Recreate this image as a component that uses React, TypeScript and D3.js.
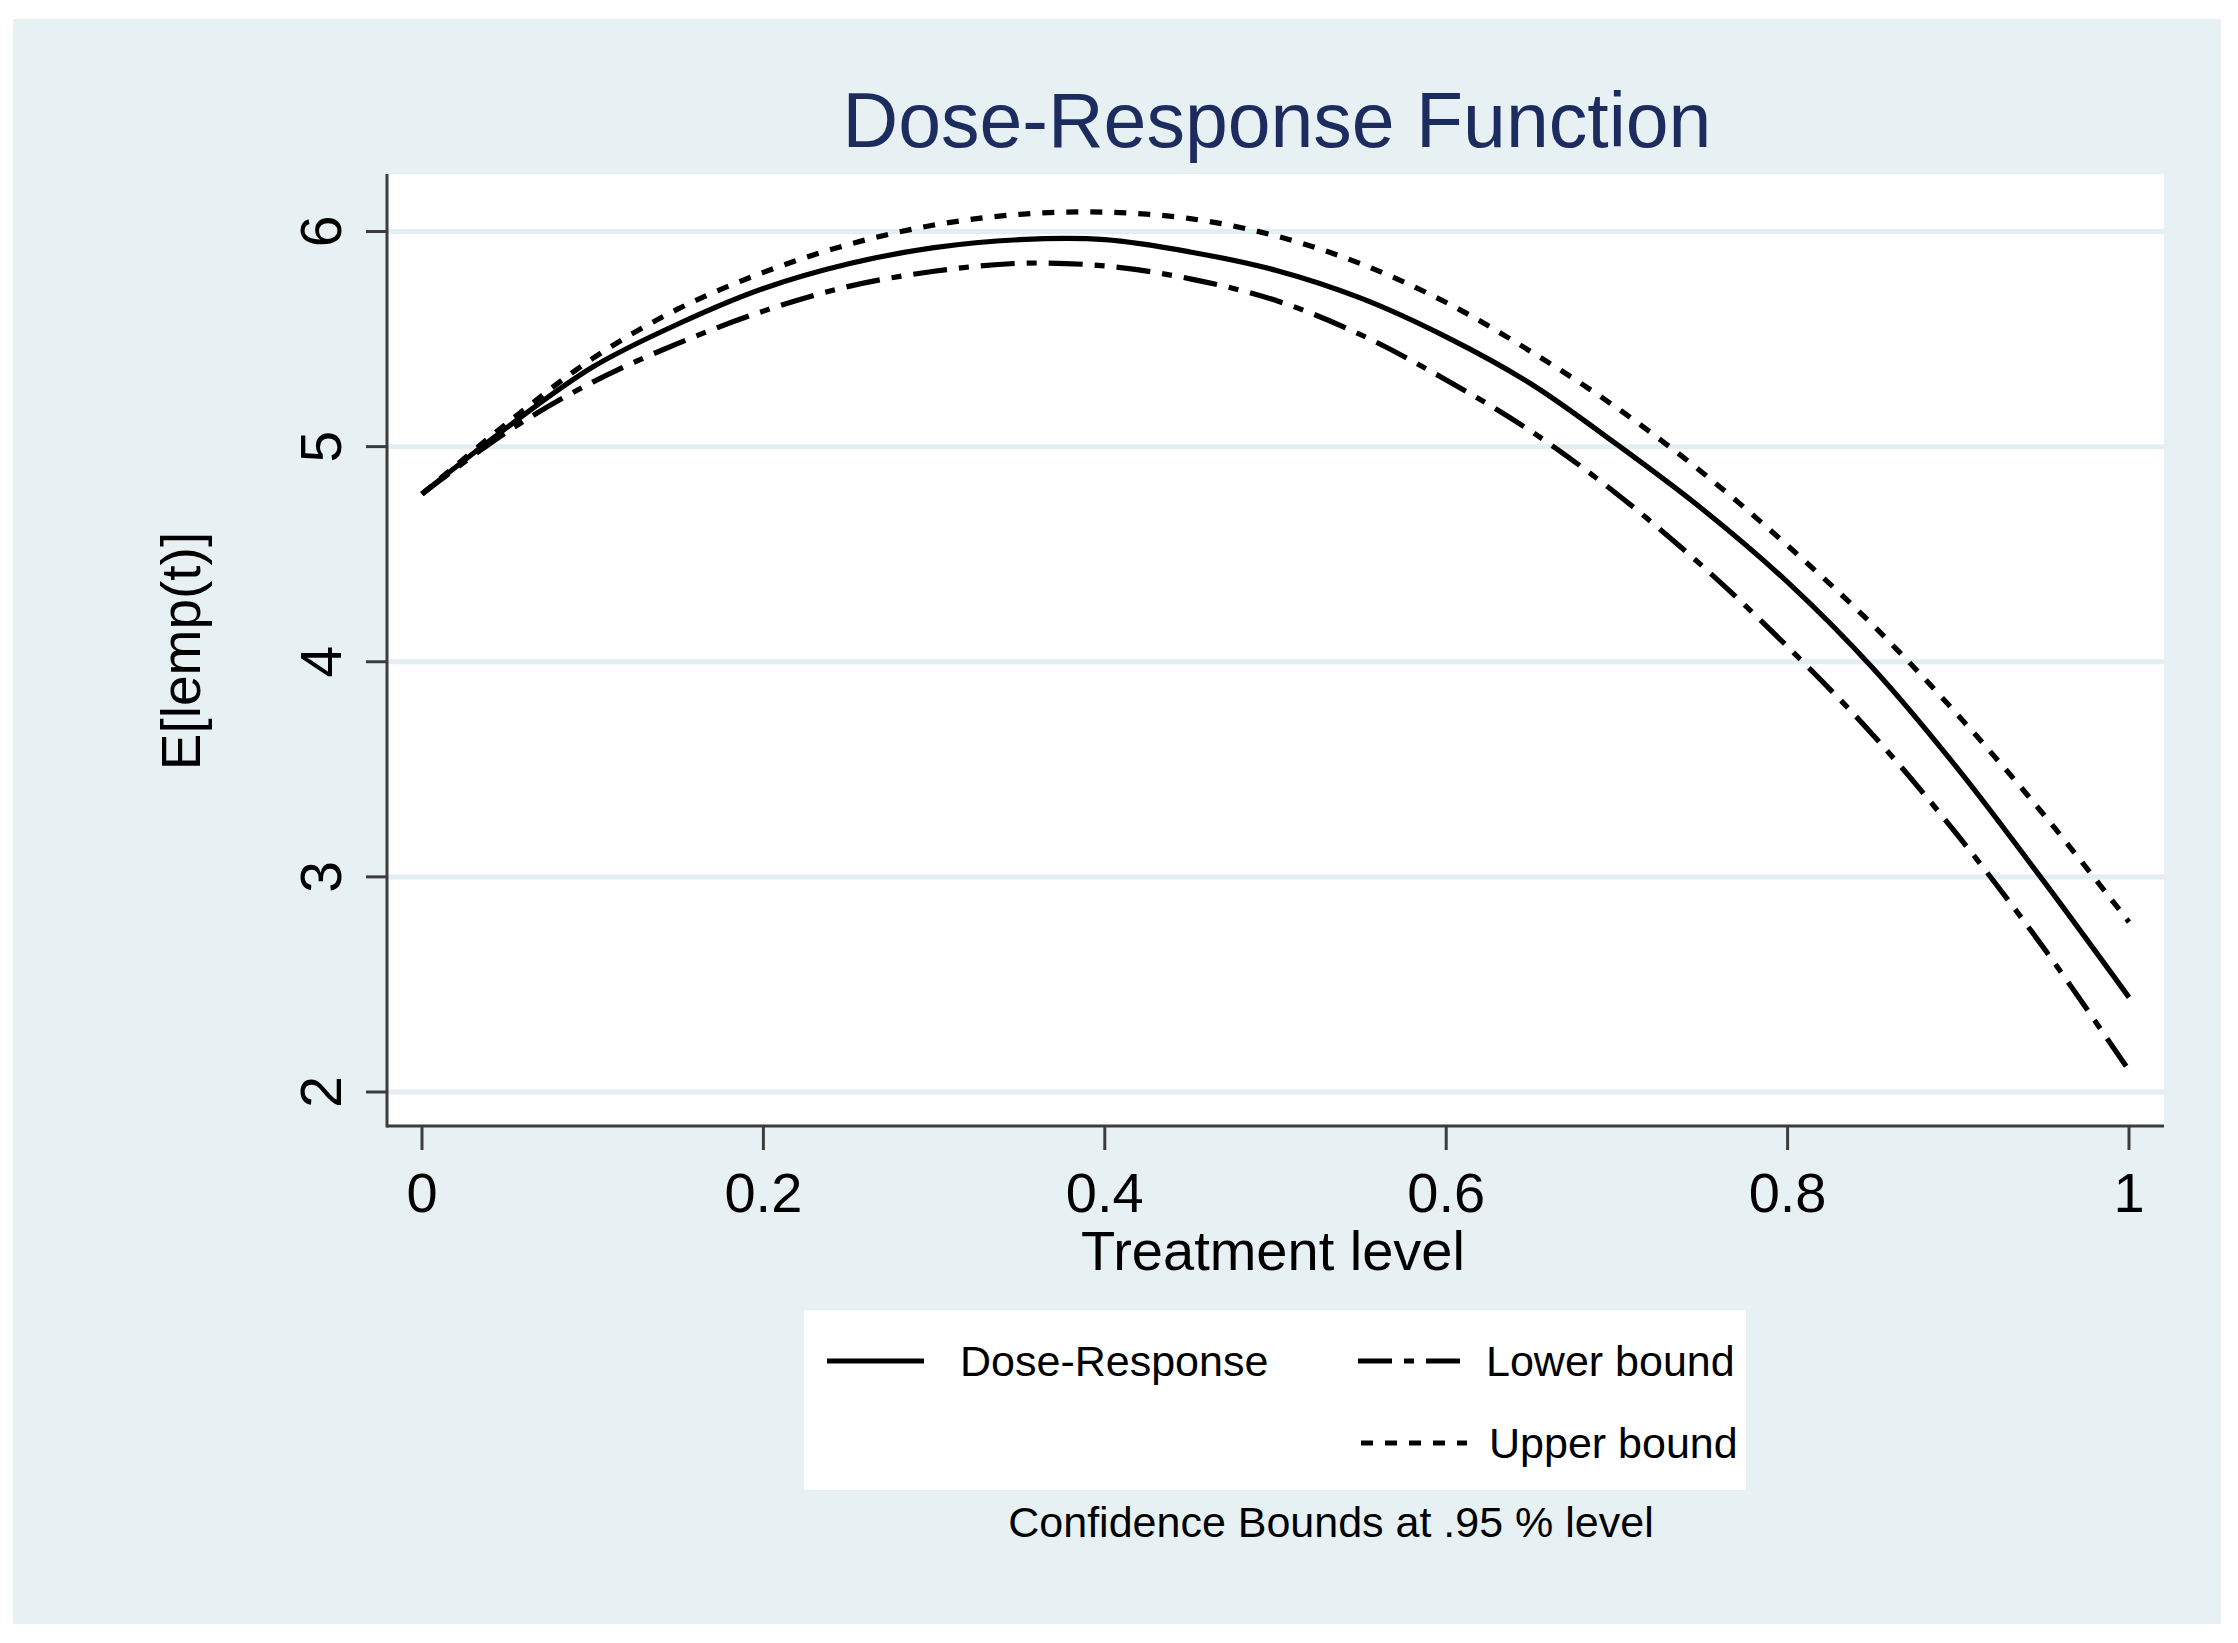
import React from "react";
import * as d3 from "d3";

const treatment = [0, 0.05, 0.1, 0.15, 0.2, 0.25, 0.3, 0.35, 0.4, 0.45, 0.5, 0.55, 0.6, 0.65, 0.7, 0.75, 0.8, 0.85, 0.9, 0.95, 1.0];
const doseResponse = [4.78, 5.09, 5.37, 5.57, 5.735, 5.85, 5.925, 5.962, 5.962, 5.905, 5.82, 5.69, 5.51, 5.29, 5.01, 4.71, 4.37, 3.97, 3.5, 2.98, 2.44];
const upperBound = [4.78, 5.11, 5.41, 5.64, 5.81, 5.94, 6.03, 6.08, 6.09, 6.06, 5.98, 5.85, 5.67, 5.44, 5.18, 4.88, 4.54, 4.17, 3.75, 3.29, 2.79];
const lowerBound = [4.78, 5.07, 5.3, 5.48, 5.63, 5.745, 5.815, 5.852, 5.84, 5.78, 5.68, 5.52, 5.31, 5.07, 4.78, 4.445, 4.07, 3.66, 3.19, 2.67, 2.1];

const xTicks = [0, 0.2, 0.4, 0.6, 0.8, 1];
const xTickLabels = ["0", "0.2", "0.4", "0.6", "0.8", "1"];
const yTicks = [2, 3, 4, 5, 6];

const titleText = "Dose-Response Function";
const xTitle = "Treatment level";
const yTitle = "E[lemp(t)]";
const noteText = "Confidence Bounds at .95 % level";
const legendLabels = ["Dose-Response", "Lower bound", "Upper bound"];

const W = 2238;
const H = 1643;
const FONT = "'Liberation Sans', Arial, Helvetica, sans-serif";

export default function App() {
  const plotL = 387, plotR = 2164, plotT = 174, plotB = 1126;
  const x = d3.scaleLinear().domain([0, 1]).range([422, 2129]);
  const y = d3.scaleLinear().domain([2, 6]).range([1092, 231.5]);

  const mk = (vals: number[]) =>
    d3
      .line<number>()
      .x((_, i) => x(treatment[i]))
      .y((v) => y(v))
      .curve(d3.curveCatmullRom.alpha(0.5))(vals) || "";

  const solid = mk(doseResponse);
  const upper = mk(upperBound);
  const lower = mk(lowerBound);

  const lowerDash = "34 12 10 12";
  const upperDash = "12 12";
  const lw = 5.2;

  const legRow1 = 1361, legRow2 = 1443;
  const legFont = 43;

  return (
    <svg
      width={W}
      height={H}
      viewBox={`0 0 ${W} ${H}`}
      style={{ position: "absolute", left: 0, top: 0, background: "#ffffff" }}
      fontFamily={FONT}
    >
      <rect x={0} y={0} width={W} height={H} fill="#ffffff" />
      <rect x={13} y={19} width={2208} height={1605} fill="#E7F1F3" />
      {/* plot region */}
      <rect x={plotL} y={plotT} width={plotR - plotL} height={plotB - plotT} fill="#ffffff" />
      {/* gridlines */}
      {yTicks.map((t) => (
        <line key={"g" + t} x1={plotL} x2={plotR} y1={y(t)} y2={y(t)} stroke="#E2EEF1" strokeWidth={5} />
      ))}
      {/* curves */}
      <path d={upper} fill="none" stroke="#000" strokeWidth={lw} strokeDasharray={upperDash} />
      <path d={lower} fill="none" stroke="#000" strokeWidth={lw} strokeDasharray={lowerDash} />
      <path d={solid} fill="none" stroke="#000" strokeWidth={lw} />
      {/* axes */}
      <line x1={plotL} x2={plotL} y1={plotT} y2={plotB + 1.5} stroke="#3c3c3c" strokeWidth={3} />
      <line x1={plotL} x2={plotR} y1={plotB} y2={plotB} stroke="#3c3c3c" strokeWidth={3} />
      {yTicks.map((t) => (
        <g key={"yt" + t}>
          <line x1={366} x2={plotL} y1={y(t)} y2={y(t)} stroke="#3c3c3c" strokeWidth={3} />
          <text
            transform={`translate(341,${y(t)}) rotate(-90)`}
            textAnchor="middle"
            fontSize={57}
            fill="#000"
          >
            {t}
          </text>
        </g>
      ))}
      {xTicks.map((t, i) => (
        <g key={"xt" + t}>
          <line x1={x(t)} x2={x(t)} y1={plotB} y2={1150} stroke="#3c3c3c" strokeWidth={3} />
          <text x={x(t)} y={1212} textAnchor="middle" fontSize={56} fill="#000">
            {xTickLabels[i]}
          </text>
        </g>
      ))}
      {/* axis titles */}
      <text x={1273} y={1270} textAnchor="middle" fontSize={56} fill="#000">
        {xTitle}
      </text>
      <text transform={`translate(200,651) rotate(-90)`} textAnchor="middle" fontSize={55} fill="#000">
        {yTitle}
      </text>
      {/* title */}
      <text x={1277} y={147} textAnchor="middle" fontSize={77} fill="#1C2C5E">
        {titleText}
      </text>
      {/* legend */}
      <rect x={804} y={1310} width={942} height={180} fill="#ffffff" />
      <line x1={827} x2={924} y1={legRow1} y2={legRow1} stroke="#000" strokeWidth={lw} />
      <text x={960} y={legRow1 + 15} fontSize={legFont} fill="#000">
        {legendLabels[0]}
      </text>
      <line x1={1358} x2={1467} y1={legRow1} y2={legRow1} stroke="#000" strokeWidth={lw} strokeDasharray={lowerDash} />
      <text x={1486} y={legRow1 + 15} fontSize={legFont} fill="#000">
        {legendLabels[1]}
      </text>
      <line x1={1361} x2={1467} y1={legRow2} y2={legRow2} stroke="#000" strokeWidth={lw} strokeDasharray={upperDash} />
      <text x={1489} y={legRow2 + 15} fontSize={legFont} fill="#000">
        {legendLabels[2]}
      </text>
      <text x={1331} y={1537} textAnchor="middle" fontSize={43} fill="#000">
        {noteText}
      </text>
    </svg>
  );
}
